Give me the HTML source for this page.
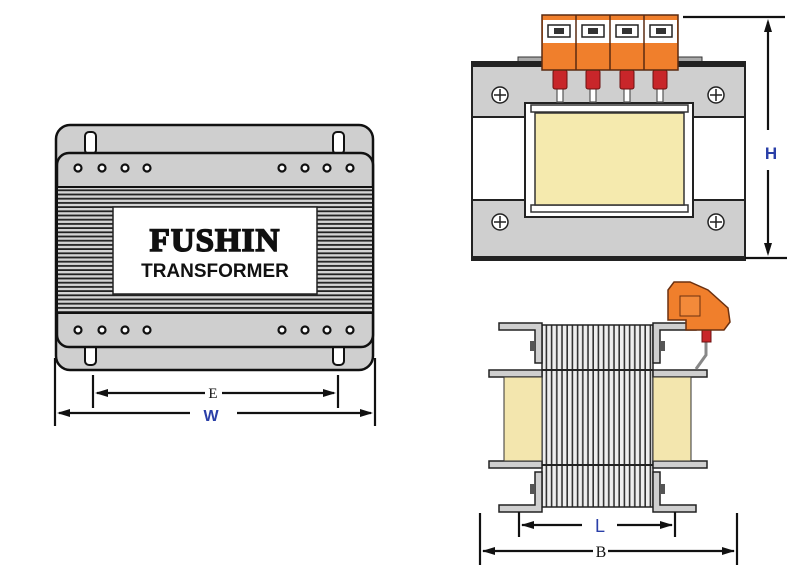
<!DOCTYPE html>
<html><head><style>body{margin:0;background:#fff}svg{display:block}</style></head><body>
<svg width="808" height="577" viewBox="0 0 808 577" xmlns="http://www.w3.org/2000/svg" font-family="Liberation Sans, sans-serif">
<defs>
<pattern id="hs" x="0" y="187" width="10" height="4.2" patternUnits="userSpaceOnUse"><rect width="10" height="4.2" fill="#d4d4d4"/><rect y="2.4" width="10" height="1.8" fill="#222"/></pattern>
<pattern id="vs" x="542" y="0" width="5.2" height="10" patternUnits="userSpaceOnUse"><rect width="5.2" height="10" fill="#eee"/><rect x="3.6" width="1.6" height="10" fill="#333"/></pattern>
</defs>
<!-- LEFT -->
<rect x="56" y="125" width="317" height="245" rx="14" fill="#cfcfcf" stroke="#111" stroke-width="2.5"/>
<rect x="85" y="132" width="11" height="22" rx="4" fill="#fff" stroke="#111" stroke-width="2"/>
<rect x="333" y="132" width="11" height="22" rx="4" fill="#fff" stroke="#111" stroke-width="2"/>
<rect x="85" y="343" width="11" height="22" rx="4" fill="#fff" stroke="#111" stroke-width="2"/>
<rect x="333" y="343" width="11" height="22" rx="4" fill="#fff" stroke="#111" stroke-width="2"/>
<rect x="57" y="153" width="316" height="194" rx="12" fill="#cfcfcf" stroke="#111" stroke-width="2.5"/>
<rect x="58" y="187" width="314" height="126" fill="url(#hs)"/>
<line x1="58" y1="187" x2="372" y2="187" stroke="#111" stroke-width="2"/>
<line x1="58" y1="313" x2="372" y2="313" stroke="#111" stroke-width="2"/>
<g fill="#fff" stroke="#111" stroke-width="2.2">
<circle cx="78" cy="168" r="3.5"/><circle cx="102" cy="168" r="3.5"/><circle cx="125" cy="168" r="3.5"/><circle cx="147" cy="168" r="3.5"/>
<circle cx="282" cy="168" r="3.5"/><circle cx="305" cy="168" r="3.5"/><circle cx="327" cy="168" r="3.5"/><circle cx="350" cy="168" r="3.5"/>
<circle cx="78" cy="330" r="3.5"/><circle cx="102" cy="330" r="3.5"/><circle cx="125" cy="330" r="3.5"/><circle cx="147" cy="330" r="3.5"/>
<circle cx="282" cy="330" r="3.5"/><circle cx="305" cy="330" r="3.5"/><circle cx="327" cy="330" r="3.5"/><circle cx="350" cy="330" r="3.5"/>
</g>
<rect x="113" y="207" width="204" height="87" fill="#fff" stroke="#222" stroke-width="1.5"/>
<text x="215" y="251" text-anchor="middle" font-family="Liberation Serif, serif" font-weight="bold" font-size="33" letter-spacing="1" fill="#111" stroke="#111" stroke-width="1.6">FUSHIN</text>
<text x="215" y="277" text-anchor="middle" font-weight="bold" font-size="19" fill="#111">TRANSFORMER</text>
<g stroke="#111" stroke-width="2.2">
<line x1="93" y1="375" x2="93" y2="408"/><line x1="338" y1="375" x2="338" y2="408"/>
<line x1="97" y1="393" x2="205" y2="393"/><line x1="222" y1="393" x2="334" y2="393"/>
<line x1="55" y1="358" x2="55" y2="426"/><line x1="375" y1="358" x2="375" y2="426"/>
<line x1="59" y1="413" x2="190" y2="413"/><line x1="237" y1="413" x2="371" y2="413"/>
</g>
<g fill="#111"><path d="M95,393 l13,-4 v8z"/><path d="M336,393 l-13,-4 v8z"/><path d="M57,413 l13,-4 v8z"/><path d="M373,413 l-13,-4 v8z"/></g>
<text x="213" y="398" text-anchor="middle" font-family="Liberation Serif, serif" font-size="15" fill="#111">E</text>
<text x="211" y="421" text-anchor="middle" font-weight="bold" font-size="16" fill="#2a3fa8">W</text>
<!-- TOP RIGHT -->
<rect x="518" y="57" width="26" height="8" fill="#aaa" stroke="#333"/>
<rect x="676" y="57" width="26" height="8" fill="#aaa" stroke="#333"/>
<rect x="472" y="62" width="273" height="198" fill="#cfcfcf" stroke="#222" stroke-width="2"/>
<rect x="472" y="62" width="273" height="5" fill="#222"/>
<rect x="473" y="117" width="271" height="83" fill="#fff"/>
<line x1="472" y1="117" x2="745" y2="117" stroke="#222" stroke-width="2"/>
<line x1="472" y1="200" x2="745" y2="200" stroke="#222" stroke-width="2"/>
<rect x="472" y="256" width="273" height="4" fill="#222"/>
<rect x="525" y="103" width="168" height="114" fill="#fff" stroke="#222" stroke-width="2"/>
<rect x="531" y="105" width="157" height="7" fill="#fff" stroke="#333" stroke-width="1.5"/>
<rect x="531" y="205" width="157" height="7" fill="#fff" stroke="#333" stroke-width="1.5"/>
<rect x="535" y="113" width="149" height="92" fill="#f5eaae" stroke="#333" stroke-width="1.5"/>
<g fill="#fff" stroke="#222" stroke-width="1.5">
<circle cx="500" cy="95" r="8"/><circle cx="716" cy="95" r="8"/><circle cx="500" cy="222" r="8"/><circle cx="716" cy="222" r="8"/></g>
<g stroke="#222" stroke-width="1.5"><path d="M494,95h12M500,89v12M710,95h12M716,89v12M494,222h12M500,216v12M710,222h12M716,216v12"/></g>
<g stroke="#555" stroke-width="1.2" fill="#fff">
<path d="M557,88v14h6v-14z"/><path d="M590,88v14h6v-14z"/><path d="M624,88v14h6v-14z"/><path d="M657,88v14h6v-14z"/></g>
<g fill="#c8262a" stroke="#6b1010" stroke-width="1">
<rect x="553" y="70" width="14" height="19" rx="2"/><rect x="586" y="70" width="14" height="19" rx="2"/><rect x="620" y="70" width="14" height="19" rx="2"/><rect x="653" y="70" width="14" height="19" rx="2"/></g>
<rect x="542" y="15" width="136" height="55" fill="#f07f2c" stroke="#5a2a10" stroke-width="1.5"/>
<rect x="543" y="20" width="134" height="23" fill="#fff"/>
<g stroke="#5a2a10" stroke-width="1.5"><line x1="576" y1="15" x2="576" y2="70"/><line x1="610" y1="15" x2="610" y2="70"/><line x1="644" y1="15" x2="644" y2="70"/></g>
<g fill="#fff" stroke="#222" stroke-width="1.5">
<rect x="548" y="25" width="22" height="12"/><rect x="582" y="25" width="22" height="12"/><rect x="616" y="25" width="22" height="12"/><rect x="650" y="25" width="22" height="12"/></g>
<g fill="#333"><rect x="554" y="28" width="10" height="6"/><rect x="588" y="28" width="10" height="6"/><rect x="622" y="28" width="10" height="6"/><rect x="656" y="28" width="10" height="6"/></g>
<g stroke="#111" stroke-width="2.2">
<line x1="683" y1="17" x2="785" y2="17"/><line x1="745" y1="258" x2="787" y2="258"/>
<line x1="768" y1="22" x2="768" y2="130"/><line x1="768" y1="170" x2="768" y2="253"/></g>
<g fill="#111"><path d="M768,19 l-4,13 h8z"/><path d="M768,256 l-4,-13 h8z"/></g>
<text x="771" y="159" text-anchor="middle" font-weight="bold" font-size="17" fill="#2a3fa8">H</text>
<!-- BOTTOM RIGHT -->
<rect x="542" y="325" width="111" height="182" fill="url(#vs)" stroke="#222" stroke-width="1.5"/>
<line x1="542" y1="370" x2="653" y2="370" stroke="#222" stroke-width="2"/>
<line x1="542" y1="465" x2="653" y2="465" stroke="#222" stroke-width="2"/>
<g fill="#cfcfcf" stroke="#222" stroke-width="1.5">
<path d="M499,323h43v40h-7v-33h-36z"/>
<path d="M499,512h43v-40h-7v33h-36z"/>
<path d="M696,323h-43v40h7v-33h36z"/>
<path d="M696,512h-43v-40h7v33h36z"/>
<rect x="489" y="370" width="53" height="7"/><rect x="653" y="370" width="54" height="7"/>
<rect x="489" y="461" width="53" height="7"/><rect x="653" y="461" width="54" height="7"/></g>
<rect x="504" y="377" width="38" height="84" fill="#f3e6ae" stroke="#333"/>
<rect x="653" y="377" width="38" height="84" fill="#f3e6ae" stroke="#333"/>
<g fill="#555"><rect x="530" y="341" width="5" height="10"/><rect x="660" y="341" width="5" height="10"/><rect x="530" y="484" width="5" height="10"/><rect x="660" y="484" width="5" height="10"/></g>
<path d="M706,340 v15 l-10,14" stroke="#888" stroke-width="3" fill="none"/>
<rect x="702" y="330" width="9" height="12" fill="#c8262a" stroke="#6b1010"/>
<path d="M668,320 v-30 l6,-8 h16 l18,8 l20,18 l2,14 l-6,8 h-38 v-10z" fill="#f07f2c" stroke="#6b3010" stroke-width="1.5"/>
<rect x="680" y="296" width="20" height="20" fill="#f38a3a" stroke="#6b3010"/>
<g stroke="#111" stroke-width="2.2">
<line x1="519" y1="512" x2="519" y2="537"/><line x1="675" y1="512" x2="675" y2="537"/>
<line x1="522" y1="525" x2="582" y2="525"/><line x1="617" y1="525" x2="672" y2="525"/>
<line x1="480" y1="513" x2="480" y2="565"/><line x1="737" y1="513" x2="737" y2="565"/>
<line x1="483" y1="551" x2="593" y2="551"/><line x1="608" y1="551" x2="734" y2="551"/></g>
<g fill="#111"><path d="M521,525 l13,-4 v8z"/><path d="M673,525 l-13,-4 v8z"/><path d="M482,551 l13,-4 v8z"/><path d="M735,551 l-13,-4 v8z"/></g>
<text x="600" y="532" text-anchor="middle" font-size="18" fill="#2a3fa8">L</text>
<text x="601" y="557" text-anchor="middle" font-family="Liberation Serif, serif" font-size="16" fill="#111">B</text>
</svg>
</body></html>
